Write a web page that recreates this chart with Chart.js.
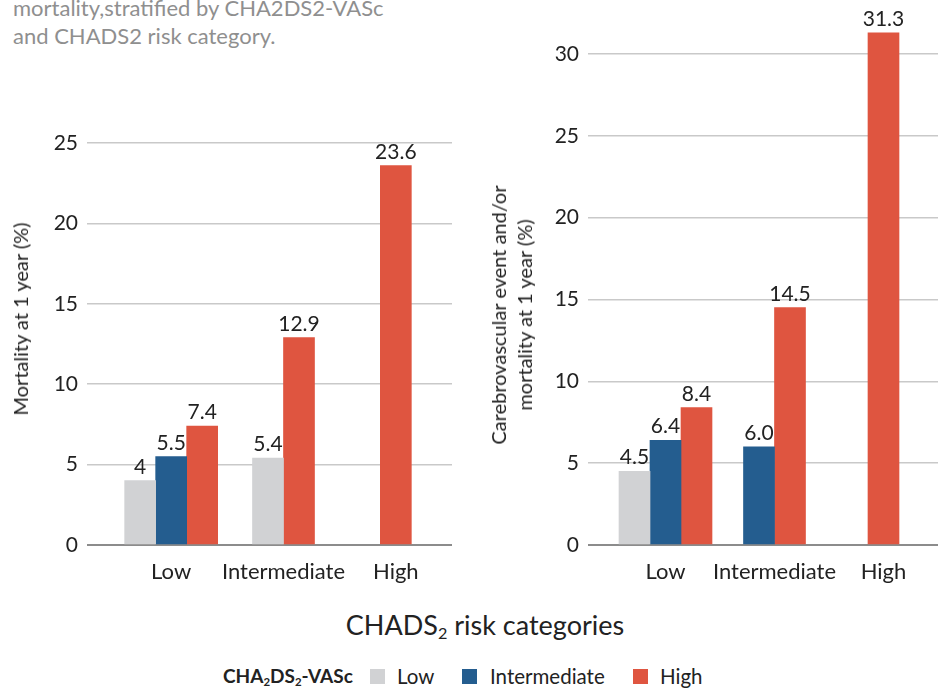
<!DOCTYPE html>
<html>
<head>
<meta charset="utf-8">
<script src="https://cdn.jsdelivr.net/npm/chart.js@4.4.1/dist/chart.umd.min.js"></script>
<style>
  html, body { margin: 0; padding: 0; background: #fff; overflow: hidden; }
  body { width: 938px; height: 688px; position: relative; font-family: Lato, sans-serif; color: #222; }
  canvas { position: absolute; top: 0; }
  #leftChart { left: 0; }
  #rightChart { left: 470px; }
  .note { position: absolute; left: 13px; top: -6px; font-size: 22px; line-height: 28px; color: #8f8f8f; }
  .ytitle { position: absolute; transform: translate(-50%, -50%) rotate(-90deg); white-space: nowrap;
            font-size: 20px; line-height: 26px; text-align: center; }
  .xtitle { position: absolute; left: 485px; top: 608px; transform: translateX(-50%); font-size: 27px; white-space: nowrap; }
  .xtitle sub, .legend sub { font-size: 0.6em; vertical-align: -0.25em; line-height: 0; }
  .legend { position: absolute; top: 664px; font-size: 20.5px; line-height: 24px; white-space: nowrap; }
  .sw { position: absolute; top: 669px; width: 15px; height: 15px; }
</style>
</head>
<body>
<div class="note">mortality,stratified by CHA2DS2-VASc<br>and CHADS2 risk category.</div>

<canvas id="leftChart" width="470" height="605"></canvas>
<canvas id="rightChart" width="468" height="605"></canvas>

<div class="ytitle" style="left:20px; top:319px;">Mortality at 1 year (%)</div>
<div class="ytitle" style="left:511px; top:315px;">Carebrovascular event and/or<br>mortality at 1 year (%)</div>

<div class="xtitle">CHADS<sub>2</sub> risk categories</div>

<b class="legend" style="left:223px; font-size:19px;">CHA<sub>2</sub>DS<sub>2</sub>-VASc</b>
<span class="sw" style="left:370px; background:#d1d2d4"></span><span class="legend" style="left:397px;">Low</span>
<span class="sw" style="left:462px; background:#245d8f"></span><span class="legend" style="left:490px;">Intermediate</span>
<span class="sw" style="left:633px; background:#df5540"></span><span class="legend" style="left:660px;">High</span>

<script>
// CHADS2 risk categories (x axis)
const categories = ["Low", "Intermediate", "High"];

// Mortality at 1 year (%), per CHA2DS2-VASc group
const mortalityLow = [4, 5.4, null];
const mortalityIntermediate = [5.5, null, null];
const mortalityHigh = [7.4, 12.9, 23.6];

// Carebrovascular event and/or mortality at 1 year (%)
const eventLow = [4.5, null, null];
const eventIntermediate = [6.4, 6.0, null];
const eventHigh = [8.4, 14.5, 31.3];

const groupNames = ["Low", "Intermediate", "High"];
const groupColors = ["#d1d2d4", "#245d8f", "#df5540"];

Chart.defaults.font.family = "Lato, sans-serif";
Chart.defaults.color = "#222";

// draws the value above each bar
function makeValueLabels(format) {
  return {
    id: "valueLabels",
    afterDatasetsDraw(chart) {
      const ctx = chart.ctx;
      ctx.save();
      ctx.font = "21px Lato, sans-serif";
      ctx.fillStyle = "#222";
      ctx.textAlign = "center";
      ctx.textBaseline = "alphabetic";
      chart.data.datasets.forEach((ds, i) => {
        chart.getDatasetMeta(i).data.forEach((bar, j) => {
          const v = ds.data[j];
          if (v === null || v === undefined) return;
          ctx.fillText(format(v), bar.x, bar.y - 7);
        });
      });
      ctx.restore();
    },
  };
}

function buildChart(id, series, opts) {
  return new Chart(document.getElementById(id), {
    type: "bar",
    data: {
      labels: categories,
      datasets: series.map((data, i) => ({
        label: groupNames[i],
        data: data,
        backgroundColor: groupColors[i],
        barThickness: 31,
        skipNull: true,
        clip: false,
      })),
    },
    options: {
      responsive: false,
      animation: false,
      layout: { padding: { top: opts.top, right: opts.right, left: 0, bottom: 0 } },
      plugins: { legend: { display: false }, tooltip: { enabled: false } },
      scales: {
        x: {
          grid: { display: false, drawTicks: false },
          border: { display: false },
          ticks: {
            font: { size: 22 }, padding: 14, color: "#222",
            autoSkip: false, maxRotation: 0, minRotation: 0,
          },
          afterFit(scale) { scale.height = 60; },
        },
        y: {
          min: 0,
          max: opts.max,
          border: { display: false },
          grid: {
            color: (c) => (c.tick && c.tick.value === 0 ? "#8c8c8c" : "#c9c9c9"),
            lineWidth: (c) => (c.tick && c.tick.value === 0 ? 2 : 1.5),
            tickLength: opts.tickLength,
          },
          ticks: { stepSize: 5, font: { size: 21 }, padding: 9, color: "#222" },
          afterFit(scale) { scale.width = opts.axisWidth; },
        },
      },
    },
    plugins: [makeValueLabels(opts.format)],
  });
}

buildChart("leftChart", [mortalityLow, mortalityIntermediate, mortalityHigh], {
  top: 143, right: 18, max: 25, tickLength: 28, axisWidth: 115,
  format: (v) => String(v),
});

buildChart("rightChart", [eventLow, eventIntermediate, eventHigh], {
  top: 54, right: 0, max: 30, tickLength: 23, axisWidth: 141,
  format: (v) => v.toFixed(1),
});
</script>
</body>
</html>
